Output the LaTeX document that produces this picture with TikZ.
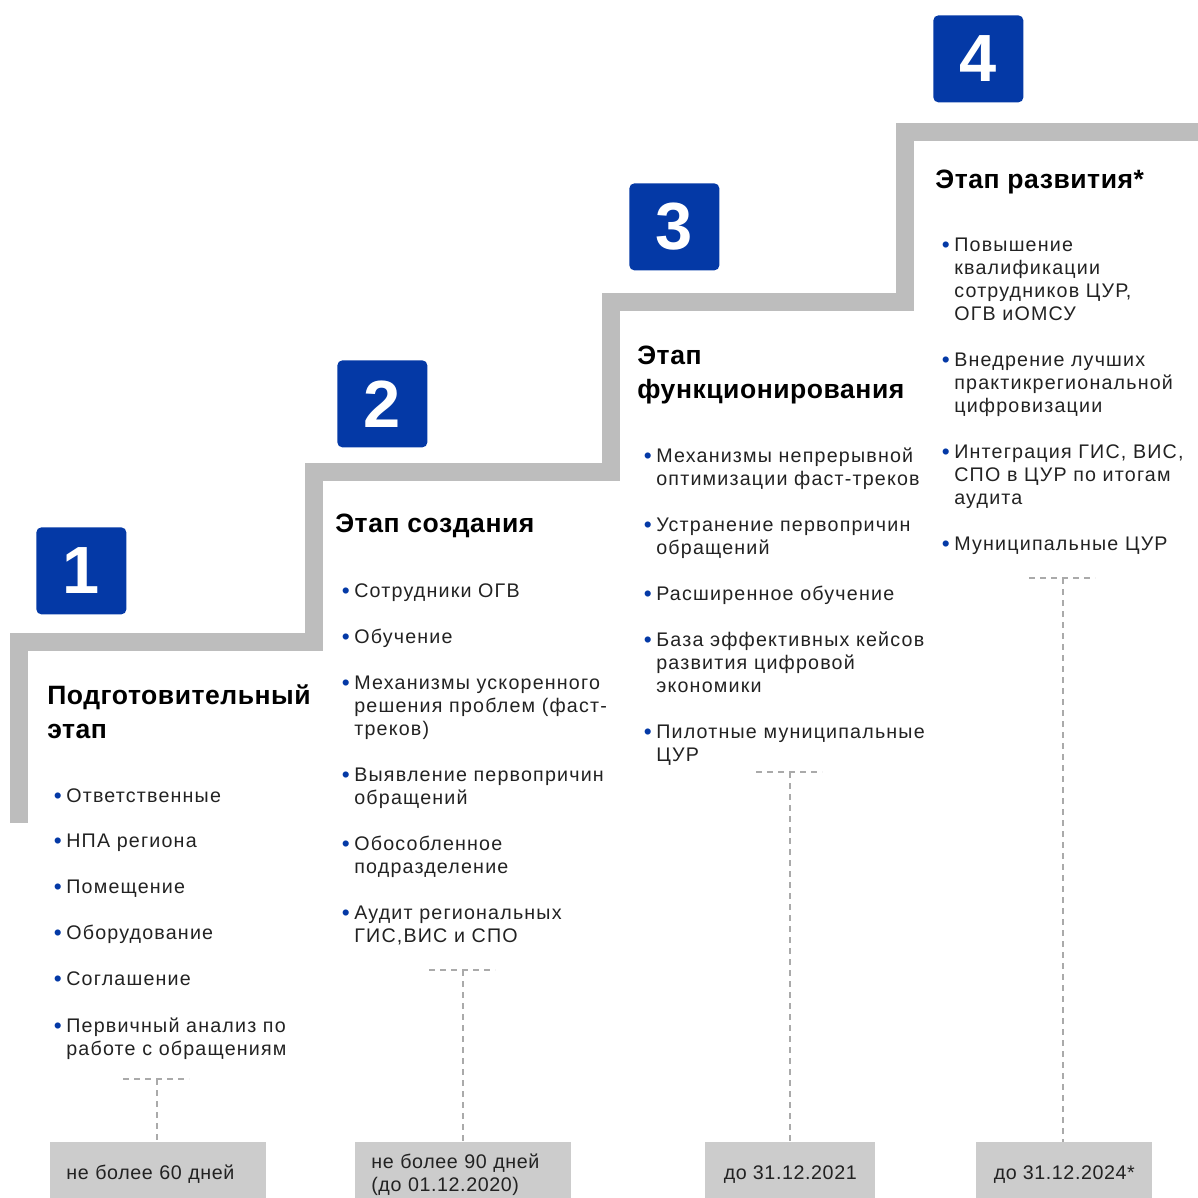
\documentclass[tikz,border=0pt]{standalone}
\usepackage{fontspec}
\setmainfont{Liberation Sans}[LetterSpace=6]
\newfontfamily\headfont{Liberation Sans}[LetterSpace=2]
\newfontfamily\datefont{Liberation Sans}[LetterSpace=3]
\newfontfamily\digitfont{Liberation Sans}
\newdimen\px \px=0.02cm
\definecolor{stair}{RGB}{189,189,189}
\definecolor{bblue}{RGB}{4,57,166}
\definecolor{boxgray}{RGB}{204,204,204}
\definecolor{dashgray}{RGB}{170,170,170}
\definecolor{txt}{RGB}{34,34,34}
\newcommand\bodyf{\fontsize{11.2pt}{13.09pt}\selectfont}
\newcommand\headf{\headfont\fontsize{15.1pt}{19.35pt}\selectfont\bfseries}
\newcommand\Lns[1]{\vtop{\baselineskip=13.09pt\lineskiplimit=-20pt\halign{##\hfil\cr #1\crcr}}}
\newcommand\Hns[1]{\vtop{\baselineskip=19.35pt\lineskiplimit=-20pt\halign{##\hfil\cr #1\crcr}}}
\newcommand\bul{\llap{\textcolor{bblue}{\raisebox{-0.6pt}{\scalebox{1.15}{•}}}\kern2.6pt}}
\tikzset{
  numbox/.style={fill=bblue, rounded corners=5\px, minimum width=90\px, minimum height=87\px,
    anchor=north west, inner sep=0, text=white, font=\digitfont\fontsize{38pt}{38pt}\selectfont\bfseries},
  item/.style={anchor=base west, inner sep=0, text=txt, font=\bodyf},
  head/.style={anchor=base west, inner sep=0, text=black, font=\headf},
  datebox/.style={fill=boxgray, anchor=north west, inner sep=0, minimum height=64\px, text=txt,
    font=\datefont\fontsize{11.2pt}{13.09pt}\selectfont},
  dashln/.style={draw=dashgray, line width=1.5\px, dash pattern=on 6\px off 5\px},
}
\begin{document}
\begin{tikzpicture}[x=0.02cm,y=-0.02cm]
\useasboundingbox (0,0) rectangle (1198,1198);
% staircase
\draw[stair, line width=18\px, line join=miter, line cap=butt]
  (19,823) -- (19,642) -- (314,642) -- (314,472) -- (611,472) -- (611,302)
  -- (905,302) -- (905,132) -- (1199,132);
% number boxes
\node[numbox] (n1) at (36,527) {1};
\node[numbox] (n2) at (337,360) {2};
\node[numbox] (n3) at (629,183) {3};
\node[numbox] (n4) at (933,15) {4};
% column 1
\node[head] (h1) at (47,704) {\Hns{Подготовительный\cr этап}};
\node[item] (a1) at (66,802) {\bul\Lns{Ответственные}};
\node[item] (a2) at (66,847) {\bul\Lns{НПА региона}};
\node[item] (a3) at (66,893) {\bul\Lns{Помещение}};
\node[item] (a4) at (66,939) {\bul\Lns{Оборудование}};
\node[item] (a5) at (66,985) {\bul\Lns{Соглашение}};
\node[item] (a6) at (66,1032) {\bul\Lns{Первичный анализ по\cr работе с обращениям}};
% column 2
\node[head] (h2) at (335,532) {\Hns{Этап создания}};
\node[item] (b1) at (354,597) {\bul\Lns{Сотрудники ОГВ}};
\node[item] (b2) at (354,643) {\bul\Lns{Обучение}};
\node[item] (b3) at (354,689) {\bul\Lns{Механизмы ускоренного\cr решения проблем (фаст-\cr треков)}};
\node[item] (b4) at (354,781) {\bul\Lns{Выявление первопричин\cr обращений}};
\node[item] (b5) at (354,850) {\bul\Lns{Обособленное\cr подразделение}};
\node[item] (b6) at (354,919) {\bul\Lns{Аудит региональных\cr ГИС,ВИС и СПО}};
% column 3
\node[head] (h3) at (637,364) {\Hns{Этап\cr функционирования}};
\node[item] (c1) at (656,462) {\bul\Lns{Механизмы непрерывной\cr оптимизации фаст-треков}};
\node[item] (c2) at (656,531) {\bul\Lns{Устранение первопричин\cr обращений}};
\node[item] (c3) at (656,600) {\bul\Lns{Расширенное обучение}};
\node[item] (c4) at (656,646) {\bul\Lns{База эффективных кейсов\cr развития цифровой\cr экономики}};
\node[item] (c5) at (656,738) {\bul\Lns{Пилотные муниципальные\cr ЦУР}};
% column 4
\node[head] (h4) at (935,188) {\Hns{Этап развития*}};
\node[item] (e1) at (954,251) {\bul\Lns{Повышение\cr квалификации\cr сотрудников ЦУР,\cr ОГВ иОМСУ}};
\node[item] (e2) at (954,366) {\bul\Lns{Внедрение лучших\cr практикрегиональной\cr цифровизации}};
\node[item] (e3) at (954,458) {\bul\Lns{Интеграция ГИС, ВИС,\cr СПО в ЦУР по итогам\cr аудита}};
\node[item] (e4) at (954,550) {\bul\Lns{Муниципальные ЦУР}};
% date boxes
\node[datebox, minimum width=216\px, text width=184\px, align=left] (d1) at (50,1142) {не более 60 дней};
\node[datebox, minimum width=216\px, text width=184\px, align=left] (d2) at (355,1142) {не более 90 дней\\(до 01.12.2020)};
\node[datebox, minimum width=170\px, align=center] (d3) at (705,1142) {до 31.12.2021};
\node[datebox, minimum width=176\px, align=center] (d4) at (976,1142) {до 31.12.2024*};
% dashed connectors
\coordinate (t1) at (157,1079);
\coordinate (t2) at (463,970);
\coordinate (t3) at (790,772);
\coordinate (t4) at (1063,578);
\foreach \t/\d in {t1/d1,t2/d2,t3/d3,t4/d4}{
  \draw[dashln] ([xshift=-34\px]\t.center) -- ([xshift=32\px]\t.center);
  \draw[dashln] (\t.center) -- (\t.center |- \d.north);
}
\end{tikzpicture}
\end{document}
